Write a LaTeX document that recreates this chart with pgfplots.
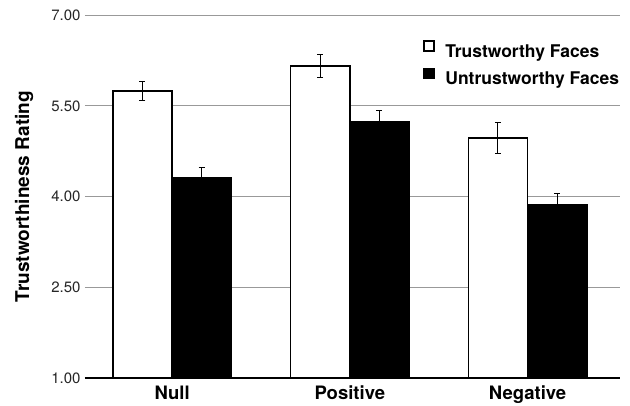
\documentclass[border=0pt]{standalone}
\usepackage{pgfplots}
\pgfplotsset{compat=1.18}
\usepackage{fontspec}
\setmainfont{TeX Gyre Heros}

\begin{document}
\begin{tikzpicture}
	\begin{axis}[
		scale only axis,
		width=535pt, height=362.7pt,
		xmin=-0.49, xmax=2.52,
		ymin=1, ymax=7,
		ybar, bar width=0.333,
		axis line style={draw=none},
		major tick length=0pt,
		tick style={draw=none},
		ymajorgrids=true,
		grid style={black!40, line width=1pt},
		ytick={1,2.5,4,5.5,7},
		yticklabels={1.00,2.50,4.00,5.50,7.00},
		xtick={0,1,2},
		xticklabels={Null,Positive,Negative},
		yticklabel style={font=\fontsize{15}{18}\selectfont, text=black!85, xshift=-1pt},
		xticklabel style={font=\fontsize{18.5}{22}\selectfont\bfseries, yshift=-4pt},
		ylabel={Trustworthiness Rating},
		ylabel style={font=\fontsize{19}{22}\selectfont\bfseries,
			at={(axis description cs:-0.114,0.5)}, anchor=center},
		legend image code/.code={
			\draw[#1, line width=1.5pt] (0.75pt,0.75pt) rectangle (10.75pt,10.75pt);},
		legend style={draw=none, fill=none, inner sep=0pt,
			at={(0.632,0.932)}, anchor=north west,
			row sep=6pt,
			nodes={inner sep=3pt, font=\fontsize{17.5}{20}\selectfont\bfseries},
			/tikz/every odd column/.append style={column sep=7.5pt}},
		legend cell align=left,
		]
		
		% trustworthy faces: mean +- error
		\addplot[fill=white, draw=black, line width=1.5pt, bar shift=-0.1667,
		error bars/.cd, y dir=both, y explicit,
		error bar style={line width=1pt, black},
		error mark options={rotate=90, mark size=3pt, line width=1pt, black}]
		coordinates {
			(0,5.75) +- (0,0.16)
			(1,6.16) +- (0,0.19)
			(2,4.97) +- (0,0.26)
		};
		\addlegendentry{Trustworthy Faces}
		
		% untrustworthy faces
		\addplot[fill=black, draw=black, line width=1.5pt, bar shift=0.1667,
		error bars/.cd, y dir=both, y explicit,
		error bar style={line width=1pt, black},
		error mark options={rotate=90, mark size=3pt, line width=1pt, black}]
		coordinates {
			(0,4.32) +- (0,0.16)
			(1,5.24) +- (0,0.19)
			(2,3.87) +- (0,0.185)
		};
		\addlegendentry{Untrustworthy Faces}
		
	\end{axis}
	% baseline of the chart, above the bars
	\draw[line width=2pt] (current axis.south west) -- (current axis.south east);
	\pgfresetboundingbox
	\path[use as bounding box] (current axis.south west) ++(-85pt,-28pt) rectangle ++(630pt,406pt);
\end{tikzpicture}
\end{document}
